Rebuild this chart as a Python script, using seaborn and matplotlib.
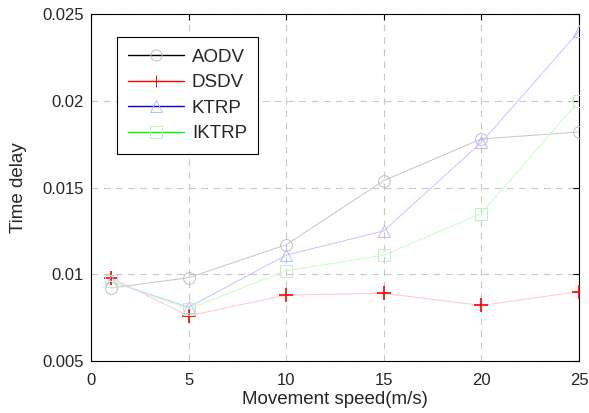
import numpy as np
import pandas as pd
import seaborn as sns
import matplotlib.pyplot as plt
from matplotlib.lines import Line2D

speeds = [1, 5, 10, 15, 20, 25]
aodv = [0.0092, 0.0098, 0.0117, 0.0154, 0.0178, 0.0182]
dsdv = [0.0098, 0.0076, 0.0088, 0.0089, 0.0082, 0.0090]
ktrp = [0.0096, 0.0081, 0.0111, 0.0125, 0.0176, 0.0240]
iktrp = [0.0096, 0.0080, 0.0102, 0.0111, 0.0135, 0.0200]
protocols = ['AODV', 'DSDV', 'KTRP', 'IKTRP']

# (legend line colour, plotted line colour, marker, marker edge colour)
styles = {
    'AODV': ('black', '#c4c4c4', 'o', '#c0c0c0'),
    'DSDV': ('red', '#ffc8c8', '+', 'red'),
    'KTRP': ('blue', '#c4c4ff', '^', '#b8b8ff'),
    'IKTRP': ('#00ff00', '#c4ffc4', 's', '#c0f0c0'),
}

df = pd.DataFrame({'speed': speeds, 'AODV': aodv, 'DSDV': dsdv,
                   'KTRP': ktrp, 'IKTRP': iktrp})
df = df.melt(id_vars='speed', var_name='protocol', value_name='delay')

sns.set_style('white')
plt.rcParams['font.family'] = ['Liberation Sans', 'DejaVu Sans']

fig = plt.figure(figsize=(5.89, 4.13), dpi=100)
ax = fig.add_axes([0.1545, 0.126, 0.8285, 0.840])

for p in protocols:
    leg_c, line_c, m, mec = styles[p]
    sub = df[df['protocol'] == p]
    sns.lineplot(data=sub, x='speed', y='delay', ax=ax, color=line_c,
                 linewidth=0.7, marker=m, markersize=8.5 if m != '+' else 10,
                 markerfacecolor='none', markeredgecolor=mec,
                 markeredgewidth=0.7 if m != '+' else 1.2, zorder=3)

ax.set_xlim(0, 25)
ax.set_ylim(0.005, 0.025)
ax.set_xticks([0, 5, 10, 15, 20, 25])
ax.set_yticks([0.005, 0.01, 0.015, 0.02, 0.025])
ax.set_yticklabels(['0.005', '0.01', '0.015', '0.02', '0.025'])
ax.grid(True, linestyle=(0, (6, 5)), color='#c8c8c8', linewidth=0.8)
ax.tick_params(direction='in', top=True, right=True, length=4,
               labelsize=12, color='black')
ax.tick_params(axis='x', pad=9)
ax.tick_params(axis='y', pad=5)
for s in ax.spines.values():
    s.set_color('black')
    s.set_linewidth(0.8)
ax.set_xlabel('Movement speed(m/s)', fontsize=13.5, labelpad=2)
ax.set_ylabel('Time delay', fontsize=13.5, labelpad=11)

handles = []
for p in protocols:
    leg_c, line_c, m, mec = styles[p]
    handles.append(Line2D([0], [0], color=leg_c, linewidth=1, marker=m,
                          markersize=8 if m != '+' else 9,
                          markerfacecolor='none', markeredgecolor=mec,
                          markeredgewidth=0.7))
leg = ax.legend(handles, protocols, loc='upper left',
                bbox_to_anchor=(0.053, 0.933), borderaxespad=0,
                fontsize=13.5, handlelength=3.0, handletextpad=0.4,
                labelspacing=0.45, borderpad=0.6,
                fancybox=False, framealpha=1, edgecolor='black')
leg.get_frame().set_linewidth(0.8)

fig.savefig('out.png', dpi=100)
